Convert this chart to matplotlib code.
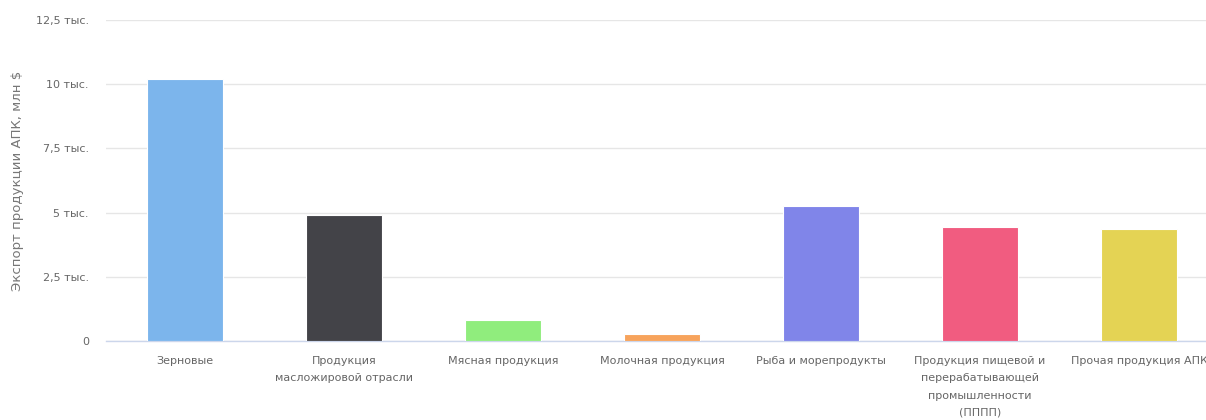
import matplotlib.pyplot as plt
from matplotlib.ticker import FixedLocator

categories = ['Зерновые', 'Продукция\nмасложировой отрасли', 'Мясная продукция',
              'Молочная продукция', 'Рыба и морепродукты',
              'Продукция пищевой и\nперерабатывающей\nпромышленности\n(ПППП)',
              'Прочая продукция АПК']
values = [10200, 4900, 830, 270, 5260, 4440, 4360]
colors = ['#7cb5ec', '#434348', '#90ed7d', '#f7a35c', '#8085e9', '#f15c80', '#e4d354']

yticks = [0, 2500, 5000, 7500, 10000, 12500]
ytick_labels = ['0', '2,5 тыс.', '5 тыс.', '7,5 тыс.', '10 тыс.', '12,5 тыс.']

plt.rcParams['font.family'] = ['DejaVu Sans']

fig = plt.figure(figsize=(12.06, 4.2), dpi=100)
ax = fig.add_axes([105.5 / 1206, 79 / 420, 1113 / 1206, 321 / 420])

x = list(range(len(categories)))
ax.bar(x, values, width=0.475, color=colors, edgecolor='white', linewidth=0.8, zorder=3)

ax.set_xlim(-0.5, len(categories) - 0.5)
ax.set_ylim(0, 12500)
ax.yaxis.set_major_locator(FixedLocator(yticks))
ax.set_yticklabels(ytick_labels)
ax.set_xticks(x)
ax.set_xticklabels(categories, linespacing=1.9)

ax.grid(axis='y', color='#e6e6e6', linewidth=1, zorder=0)
for side in ['top', 'right', 'left']:
    ax.spines[side].set_visible(False)
ax.spines['bottom'].set_color('#ccd6eb')
ax.spines['bottom'].set_linewidth(1)

ax.tick_params(axis='y', length=0, pad=12, labelsize=8, labelcolor='#666666')
ax.tick_params(axis='x', length=0, pad=11, labelsize=8, labelcolor='#666666')
for t in ax.get_xticklabels():
    t.set_verticalalignment('top')

ax.set_ylabel('Экспорт продукции АПК, млн $', fontsize=9.5, color='#777777')
ax.yaxis.set_label_coords(-81 / 1113, 0.5)

fig.savefig('out.png', dpi=100)
